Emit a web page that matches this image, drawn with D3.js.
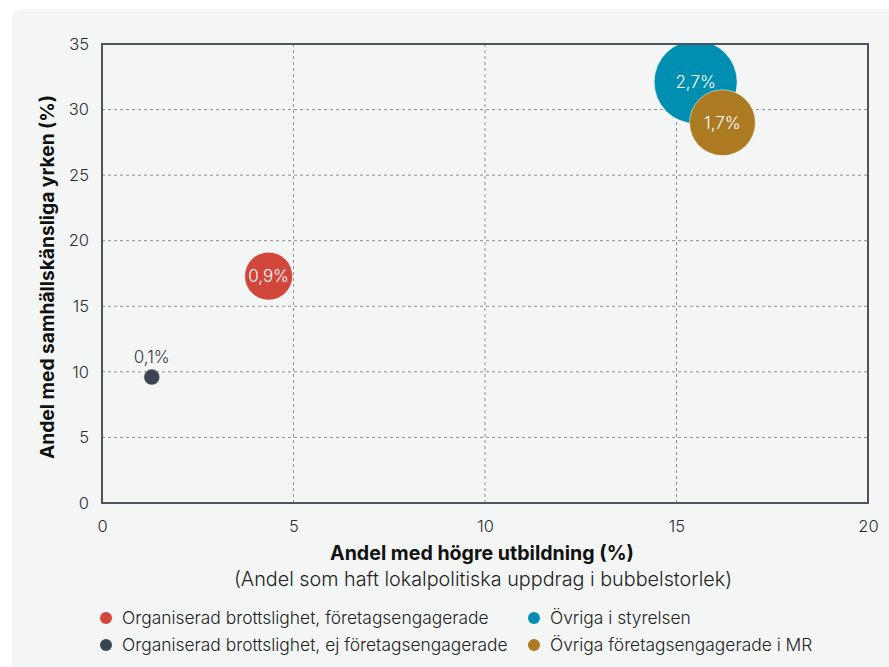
<!DOCTYPE html>
<html><head><meta charset="utf-8">
<script src="https://cdn.jsdelivr.net/npm/d3@7"></script>
<style>
html,body{margin:0;padding:0;background:#fff;}
svg{display:block;font-family:Inter, "Noto Sans", sans-serif;}
</style></head>
<body>
<svg id="c" width="889" height="667"></svg>
<script>
const groups = ["Organiserad brottslighet, företagsengagerade","Organiserad brottslighet, ej företagsengagerade","Övriga i styrelsen","Övriga företagsengagerade i MR"];
const higherEdu = [4.35, 1.3, 15.5, 16.2];
const sensitiveJobs = [17.3, 9.6, 32.1, 29.0];
const politicalShare = [0.9, 0.1, 2.7, 1.7];
const bubbleLabels = ["0,9%","0,1%","2,7%","1,7%"];
const colors = ["#d2473b","#3a4452","#008eb1","#ab7a22"];
const xTicks = [0,5,10,15,20];
const yTicks = [0,5,10,15,20,25,30,35];

const svg = d3.select("#c");
svg.append("rect").attr("x",12).attr("y",9).attr("width",900).attr("height",700).attr("rx",9).attr("fill","#f4f6f5");

const L=102,R=868,T=44,B=503;
const x = d3.scaleLinear().domain([0,20]).range([L,R]);
const y = d3.scaleLinear().domain([0,35]).range([B,T]);
const r = d3.scaleSqrt().domain([0,2.7]).range([0,41.5]);

// grid
svg.append("g").selectAll("line").data(xTicks.slice(1,-1)).join("line")
  .attr("x1",d=>x(d)).attr("x2",d=>x(d)).attr("y1",T).attr("y2",B)
  .attr("stroke","#8a8f94").attr("stroke-width",1).attr("stroke-dasharray","3,3");
svg.append("g").selectAll("line").data(yTicks.slice(1,-1)).join("line")
  .attr("y1",d=>y(d)).attr("y2",d=>y(d)).attr("x1",L).attr("x2",R)
  .attr("stroke","#8a8f94").attr("stroke-width",1).attr("stroke-dasharray","3,3");

svg.append("clipPath").attr("id","clip").append("rect").attr("x",L).attr("y",T).attr("width",R-L).attr("height",B-T);

const order=[1,0,2,3];
const gB = svg.append("g").attr("clip-path","url(#clip)");
gB.selectAll("circle").data(order).join("circle")
  .attr("cx",i=>x(higherEdu[i])).attr("cy",i=>y(sensitiveJobs[i])).attr("r",i=>r(politicalShare[i]))
  .attr("fill",i=>colors[i]).attr("stroke","rgba(255,255,255,0.5)").attr("stroke-width",1);

// labels
svg.append("g").selectAll("text").data(order).join("text")
  .attr("x",i=>x(higherEdu[i]))
  .attr("y",i=> i===1 ? y(sensitiveJobs[i])-14 : y(sensitiveJobs[i])+6)
  .attr("text-anchor","middle").attr("font-size",17).attr("font-weight",300)
  .attr("fill",i=> i===1 ? "#333a40" : "#fff")
  .text(i=>bubbleLabels[i]);

// frame
svg.append("path").attr("d",`M${L},${T}H${R}V${B}H${L}Z`).attr("fill","none").attr("stroke","#4b5560").attr("stroke-width",2);

// axes
const xa = svg.append("g").attr("transform",`translate(0,${B})`).call(d3.axisBottom(x).tickValues(xTicks).tickSize(0).tickPadding(13));
const ya = svg.append("g").attr("transform",`translate(${L},0)`).call(d3.axisLeft(y).tickValues(yTicks).tickSize(0).tickPadding(13));
[xa,ya].forEach(a=>{a.select(".domain").remove();a.selectAll("text").attr("font-size",16.5).attr("font-weight",300).attr("fill","#2a2e33").attr("font-family","Inter, sans-serif");});
xa.selectAll("text").attr("dy","0.95em");

svg.append("text").attr("x",482).attr("y",560).attr("text-anchor","middle").attr("font-size",19.6).attr("font-weight",700).attr("fill","#111").text("Andel med högre utbildning (%)");
svg.append("text").attr("x",483).attr("y",586).attr("text-anchor","middle").attr("font-size",19.8).attr("font-weight",300).attr("fill","#222").text("(Andel som haft lokalpolitiska uppdrag i bubbelstorlek)");
svg.append("text").attr("transform",`translate(54,277) rotate(-90)`).attr("text-anchor","middle").attr("font-size",19.2).attr("font-weight",700).attr("fill","#111").text("Andel med samhällskänsliga yrken (%)");

// legend
const lx=[106,534], ly=[618,645];
const leg = svg.append("g").selectAll("g").data([0,1,2,3]).join("g")
  .attr("transform",i=>`translate(${lx[i<2?0:1]},${ly[i%2]})`);
leg.append("circle").attr("r",6).attr("fill",i=>colors[i]);
leg.append("text").attr("x",16).attr("dy","0.35em").attr("font-size",17.4).attr("font-weight",300).attr("fill","#222").text(i=>groups[i]);
</script>
</body></html>
